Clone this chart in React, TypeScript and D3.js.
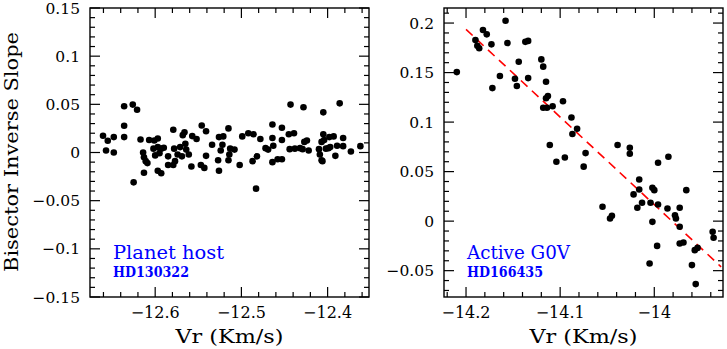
import React from "react";
import * as d3 from "d3";

// HD130322 (planet host): [Vr, bisector inverse slope]
const hostPoints: [number, number][] = [
  [-12.6605, 0.0174], [-12.655, 0.0122], [-12.648, 0.016], [-12.657, 0.002], [-12.648, 0.0],
  [-12.636, 0.048], [-12.626, 0.0497], [-12.621, 0.0444], [-12.636, 0.0278], [-12.636, 0.016],
  [-12.617, 0.0135], [-12.614, 0.0], [-12.613, -0.005], [-12.611, -0.009], [-12.609, -0.011],
  [-12.607, 0.013], [-12.601, 0.0125], [-12.597, 0.0146], [-12.602, 0.004], [-12.597, 0.0056],
  [-12.59, 0.005], [-12.595, -0.0007], [-12.6, -0.003], [-12.613, -0.021], [-12.597, -0.019],
  [-12.593, -0.0215], [-12.625, -0.031], [-12.585, -0.004], [-12.585, -0.013], [-12.579, -0.013],
  [-12.579, 0.0236], [-12.577, -0.009], [-12.574, -0.002], [-12.571, 0.0056], [-12.569, -0.004],
  [-12.568, 0.018], [-12.566, 0.021], [-12.565, 0.009], [-12.564, 0.003], [-12.561, -0.002],
  [-12.557, 0.017], [-12.558, -0.0146], [-12.552, 0.014], [-12.546, 0.028], [-12.541, 0.022],
  [-12.541, -0.0035], [-12.547, -0.013], [-12.543, -0.016], [-12.534, 0.008], [-12.526, 0.016],
  [-12.521, 0.0167], [-12.522, 0.008], [-12.527, -0.008], [-12.526, -0.019], [-12.515, 0.025],
  [-12.513, 0.004], [-12.515, -0.008], [-12.508, 0.003], [-12.502, -0.013], [-12.499, 0.0167],
  [-12.492, 0.02], [-12.487, -0.009], [-12.486, 0.019], [-12.482, -0.004], [-12.478, 0.014],
  [-12.472, 0.0045], [-12.469, 0.003], [-12.464, 0.029], [-12.464, 0.015], [-12.463, 0.007],
  [-12.464, -0.01], [-12.458, -0.007], [-12.453, -0.007], [-12.453, 0.0257], [-12.453, 0.013],
  [-12.483, -0.0375], [-12.443, 0.0497], [-12.445, 0.019], [-12.439, 0.02], [-12.444, 0.0035],
  [-12.438, 0.004], [-12.429, 0.0035], [-12.428, 0.047], [-12.427, 0.011], [-12.424, 0.0125],
  [-12.422, 0.002], [-12.41, 0.0035], [-12.409, -0.002], [-12.407, -0.008], [-12.405, 0.0417],
  [-12.405, 0.019], [-12.404, 0.013], [-12.402, 0.004], [-12.398, 0.016], [-12.393, 0.0167],
  [-12.397, 0.0056], [-12.391, -0.0035], [-12.386, 0.051], [-12.382, 0.015], [-12.382, 0.0066],
  [-12.389, 0.007], [-12.373, 0.001], [-12.362, 0.0066], [-12.524, 0.002], [-12.514, -0.002],
  [-12.432, 0.0045], [-12.407, 0.011], [-12.399, 0.0045], [-12.406, -0.009], [-12.578, 0.004],
  [-12.593, 0.004],
];

// HD166435 (active G0V)
const activePoints: [number, number][] = [
  [-14.2098, 0.1505], [-14.19, 0.1828], [-14.188, 0.177], [-14.186, 0.1745], [-14.182, 0.193],
  [-14.178, 0.1886], [-14.173, 0.1785], [-14.172, 0.1343], [-14.164, 0.1465], [-14.158, 0.2024],
  [-14.156, 0.1798], [-14.148, 0.1438], [-14.146, 0.1364], [-14.144, 0.161], [-14.137, 0.181],
  [-14.134, 0.182], [-14.134, 0.1444], [-14.12, 0.1633], [-14.118, 0.156], [-14.115, 0.1407],
  [-14.115, 0.124], [-14.113, 0.1263], [-14.118, 0.1145], [-14.114, 0.1145], [-14.108, 0.116],
  [-14.111, 0.0768], [-14.104, 0.06], [-14.097, 0.121], [-14.095, 0.0643], [-14.088, 0.1047],
  [-14.082, 0.0933], [-14.087, 0.088], [-14.075, 0.055], [-14.073, 0.0687], [-14.039, 0.0768],
  [-14.026, 0.074], [-14.026, 0.068], [-13.996, 0.059], [-13.985, 0.065], [-14.055, 0.0145],
  [-14.047, 0.0027], [-14.045, 0.0054], [-14.016, 0.042], [-14.016, 0.032], [-14.022, 0.027],
  [-14.018, 0.0135], [-14.013, 0.0185], [-14.002, 0.0337], [-14.0, 0.0313], [-14.004, 0.0185],
  [-14.002, -0.0007], [-13.996, 0.0168], [-13.997, -0.025], [-14.005, -0.0428], [-13.986, 0.0128],
  [-13.978, 0.006], [-13.977, 0.0027], [-13.973, 0.0135], [-13.973, -0.0057], [-13.973, -0.0226],
  [-13.969, -0.0215], [-13.966, 0.0313], [-13.96, -0.0444], [-13.957, -0.0293], [-13.954, -0.027],
  [-13.956, -0.0636], [-13.938, -0.0108], [-13.937, -0.0168],
];

// linear fit for the active star
const fitVr = [-14.2, -13.929];
const fitBis = [0.1936, -0.0462];

const hostXTicks = [-12.6, -12.5, -12.4];
const hostXLabels = ["\u221212.6", "\u221212.5", "\u221212.4"];
const hostYTicks = [-0.15, -0.1, -0.05, 0, 0.05, 0.1, 0.15];
const hostYLabels = ["\u22120.15", "\u22120.1", "\u22120.05", "0", "0.05", "0.1", "0.15"];

const activeXTicks = [-14.2, -14.1, -14];
const activeXLabels = ["\u221214.2", "\u221214.1", "\u221214"];
const activeYTicks = [-0.05, 0, 0.05, 0.1, 0.15, 0.2];
const activeYLabels = ["\u22120.05", "0", "0.05", "0.1", "0.15", "0.2"];

const FONT = "'DejaVu Serif', serif";
const BLUE = "#0000ff";

type PanelProps = {
  left: number;
  right: number;
  top: number;
  bottom: number;
  xDomain: [number, number];
  yDomain: [number, number];
  xTicks: number[];
  xLabels: string[];
  yTicks: number[];
  yLabels: string[];
  xMinor: number;
  yMinor: number;
  points: [number, number][];
  title: string;
  titleLen: number;
  star: string;
  fit?: boolean;
};

const Panel = (p: PanelProps) => {
  const x = d3.scaleLinear().domain(p.xDomain).range([p.left, p.right]);
  const y = d3.scaleLinear().domain(p.yDomain).range([p.bottom, p.top]);
  const major = 10;
  const minor = 5;

  const minorX = d3
    .range(Math.ceil(p.xDomain[0] / p.xMinor - 1e-6), Math.floor(p.xDomain[1] / p.xMinor + 1e-6) + 1)
    .map((i) => i * p.xMinor);
  const minorY = d3
    .range(Math.ceil(p.yDomain[0] / p.yMinor - 1e-6), Math.floor(p.yDomain[1] / p.yMinor + 1e-6) + 1)
    .map((i) => i * p.yMinor);
  const isMajor = (v: number, arr: number[]) => arr.some((t) => Math.abs(t - v) < 1e-6);

  const line = d3
    .line<number>()
    .x((_, i) => x(fitVr[i]))
    .y((_, i) => y(fitBis[i]));

  return (
    <g>
      {minorX.map((v, i) => {
        const len = isMajor(v, p.xTicks) ? major : minor;
        return (
          <g key={"xt" + i} stroke="#000" strokeWidth={1.2}>
            <line x1={x(v)} x2={x(v)} y1={p.bottom} y2={p.bottom - len} />
            <line x1={x(v)} x2={x(v)} y1={p.top} y2={p.top + len} />
          </g>
        );
      })}
      {minorY.map((v, i) => {
        const len = isMajor(v, p.yTicks) ? major : minor;
        return (
          <g key={"yt" + i} stroke="#000" strokeWidth={1.2}>
            <line x1={p.left} x2={p.left + len} y1={y(v)} y2={y(v)} />
            <line x1={p.right} x2={p.right - len} y1={y(v)} y2={y(v)} />
          </g>
        );
      })}
      <rect
        x={p.left}
        y={p.top}
        width={p.right - p.left}
        height={p.bottom - p.top}
        fill="none"
        stroke="#000"
        strokeWidth={1.4}
      />
      {p.xTicks.map((v, i) => (
        <text key={"xl" + i} x={x(v)} y={p.bottom + 21} textAnchor="middle" fontFamily={FONT} fontSize={16}>
          {p.xLabels[i]}
        </text>
      ))}
      {p.yTicks.map((v, i) => (
        <text key={"yl" + i} x={p.left - 10} y={y(v)} dy="0.36em" textAnchor="end" fontFamily={FONT} fontSize={15.5}>
          {p.yLabels[i]}
        </text>
      ))}
      {p.fit && (
        <path
          d={line(fitVr) || ""}
          fill="none"
          stroke="#ff0000"
          strokeWidth={1.6}
          strokeDasharray="9 6"
        />
      )}
      {p.points.map((d, i) => (
        <circle key={"pt" + i} cx={x(d[0])} cy={y(d[1])} r={3.3} fill="#000" />
      ))}
      <text
        x={(p.left + p.right) / 2 - 54}
        y={p.bottom + 46}
        fontFamily={FONT}
        fontSize={18}
        textLength={108}
        lengthAdjust="spacingAndGlyphs"
      >
        Vr (Km/s)
      </text>
      <text
        x={p.left + 23}
        y={p.bottom - 38}
        fontFamily={FONT}
        fontSize={18}
        fill={BLUE}
        textLength={p.titleLen}
        lengthAdjust="spacingAndGlyphs"
      >
        {p.title}
      </text>
      <text
        x={p.left + 23}
        y={p.bottom - 20}
        fontFamily={FONT}
        fontSize={14}
        fontWeight="bold"
        fill={BLUE}
        textLength={76}
        lengthAdjust="spacingAndGlyphs"
      >
        {p.star}
      </text>
    </g>
  );
};

export default function App() {
  return (
    <svg width={727} height={349} style={{ position: "absolute", left: 0, top: 0, background: "#fff" }}>
      <text
        transform="translate(18,272) rotate(-90)"
        fontFamily={FONT}
        fontSize={18}
        textLength={240}
        lengthAdjust="spacingAndGlyphs"
      >
        Bisector Inverse Slope
      </text>
      <Panel
        left={90}
        right={369}
        top={8}
        bottom={297}
        xDomain={[-12.6756, -12.352]}
        yDomain={[-0.15, 0.15]}
        xTicks={hostXTicks}
        xLabels={hostXLabels}
        yTicks={hostYTicks}
        yLabels={hostYLabels}
        xMinor={0.02}
        yMinor={0.01}
        points={hostPoints}
        title="Planet host"
        titleLen={111}
        star="HD130322"
      />
      <Panel
        left={444}
        right={723}
        top={8}
        bottom={297}
        xDomain={[-14.2234, -13.927]}
        yDomain={[-0.0766, 0.2152]}
        xTicks={activeXTicks}
        xLabels={activeXLabels}
        yTicks={activeYTicks}
        yLabels={activeYLabels}
        xMinor={0.02}
        yMinor={0.01}
        points={activePoints}
        title="Active G0V"
        titleLen={103}
        star="HD166435"
        fit
      />
    </svg>
  );
}
